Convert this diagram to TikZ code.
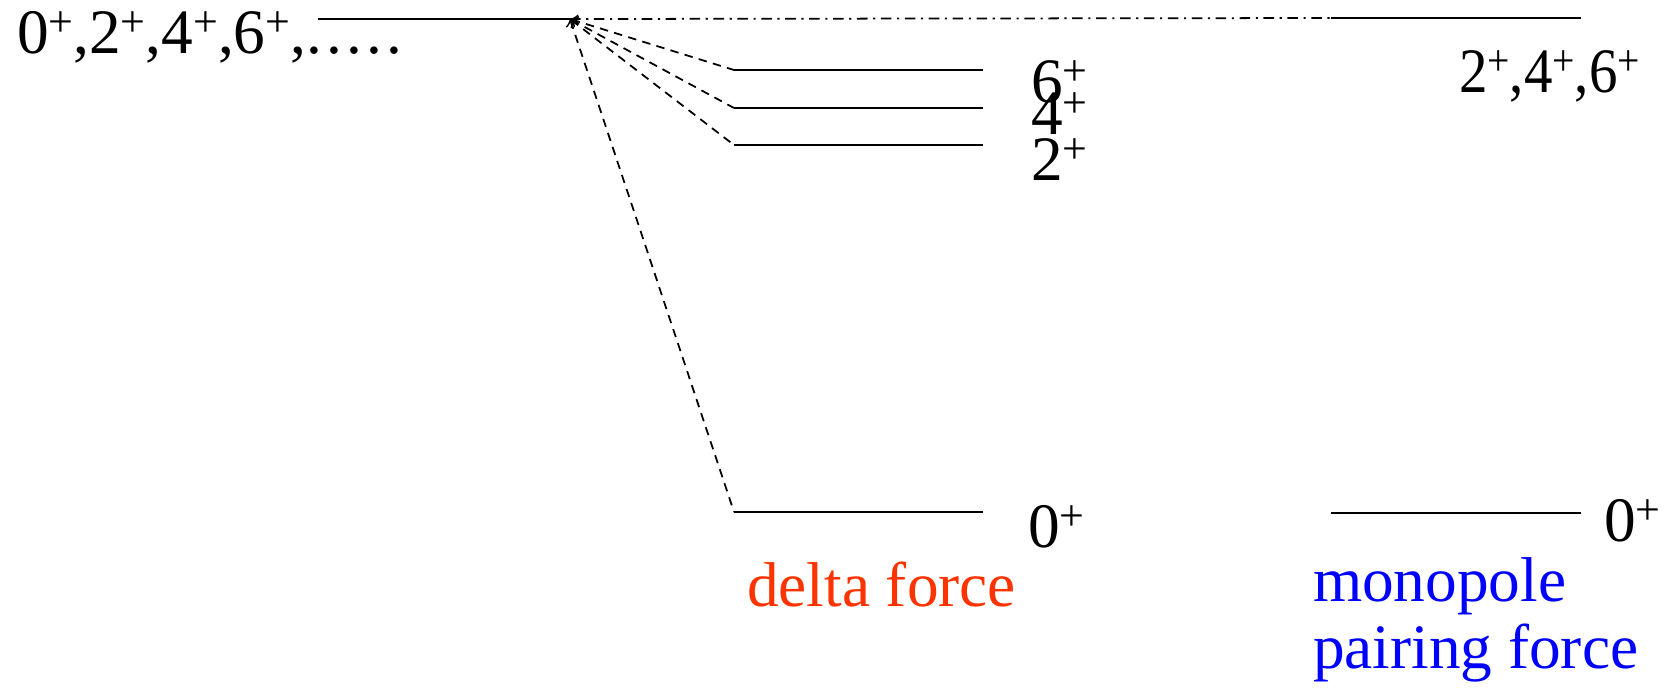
\documentclass[tikz,border=0pt]{standalone}
\usepackage{fontspec}
\setmainfont{Liberation Serif}
\usepackage{xcolor}
\usepackage{tikz}
\usetikzlibrary{calc}
\definecolor{deltacol}{RGB}{255,51,0}
\definecolor{monocol}{RGB}{0,0,255}
\newcommand{\spin}[1]{#1\raisebox{4.6pt}{\fontsize{12.5}{12.5}\selectfont +}}
\newcommand{\moredots}{.\kern1.2pt.\kern1.2pt.\kern1.2pt.\kern1.2pt.}

\begin{document}
\begin{tikzpicture}[x=0.01cm,y=-0.01cm,line width=0.6pt,>=to,
		lab/.style={anchor=base west,inner sep=0pt,font=\fontsize{18}{18.8}\selectfont},
		mix/.style={dash pattern=on 2.4pt off 1.8pt,line width=0.5pt},
		split/.style={dash pattern=on 3pt off 1.6pt on 0.6pt off 1.6pt,line width=0.5pt}]
			\useasboundingbox (0,0) rectangle (1672,690);
			% unperturbed level
			\coordinate (u0) at (318,19);
			\coordinate (u1) at (570,19);
			\draw (u0) -- (u1);
			\node[lab] (ulab) at (16,53) {\spin{0},\spin{2},\spin{4},\spin{6},\moredots};
			% delta force levels
			\foreach \n/\y in {6/70,4/108,2/145,0/512}{
				\coordinate (d\n) at (734,\y);
				\coordinate (e\n) at (983,\y);
				\draw (d\n) -- (e\n);
				\draw[mix,<-] (u1) -- (d\n);
			}
			\node[lab] (l6) at (1030,102) {\spin{6}};
			\node[lab] (l4) at (1030,134) {\spin{4}};
			\node[lab] (l2) at (1030,180) {\spin{2}};
			\node[lab] (l0) at (1027,547) {\spin{0}};
			\node[lab,text=deltacol] (dlab) at (746,606) {delta force};
			% monopole pairing levels
			\coordinate (m1) at (1331,18);
			\coordinate (m2) at (1581,18);
			\draw[split] (u1) -- (m1);
			\draw (m1) -- (m2);
			\node[lab] (mlab) at (1458,92) {\scalebox{0.9}[1]{\spin{2},\spin{4},\spin{6}}};
			\coordinate (n1) at (1331,513);
			\coordinate (n2) at (1581,513);
			\draw (n1) -- (n2);
			\node[lab] (n0) at (1603,541) {\spin{0}};
			\node[lab,text=monocol,align=left] (plab) at (1312,668) {monopole\\pairing force};
\end{tikzpicture}
\end{document}
